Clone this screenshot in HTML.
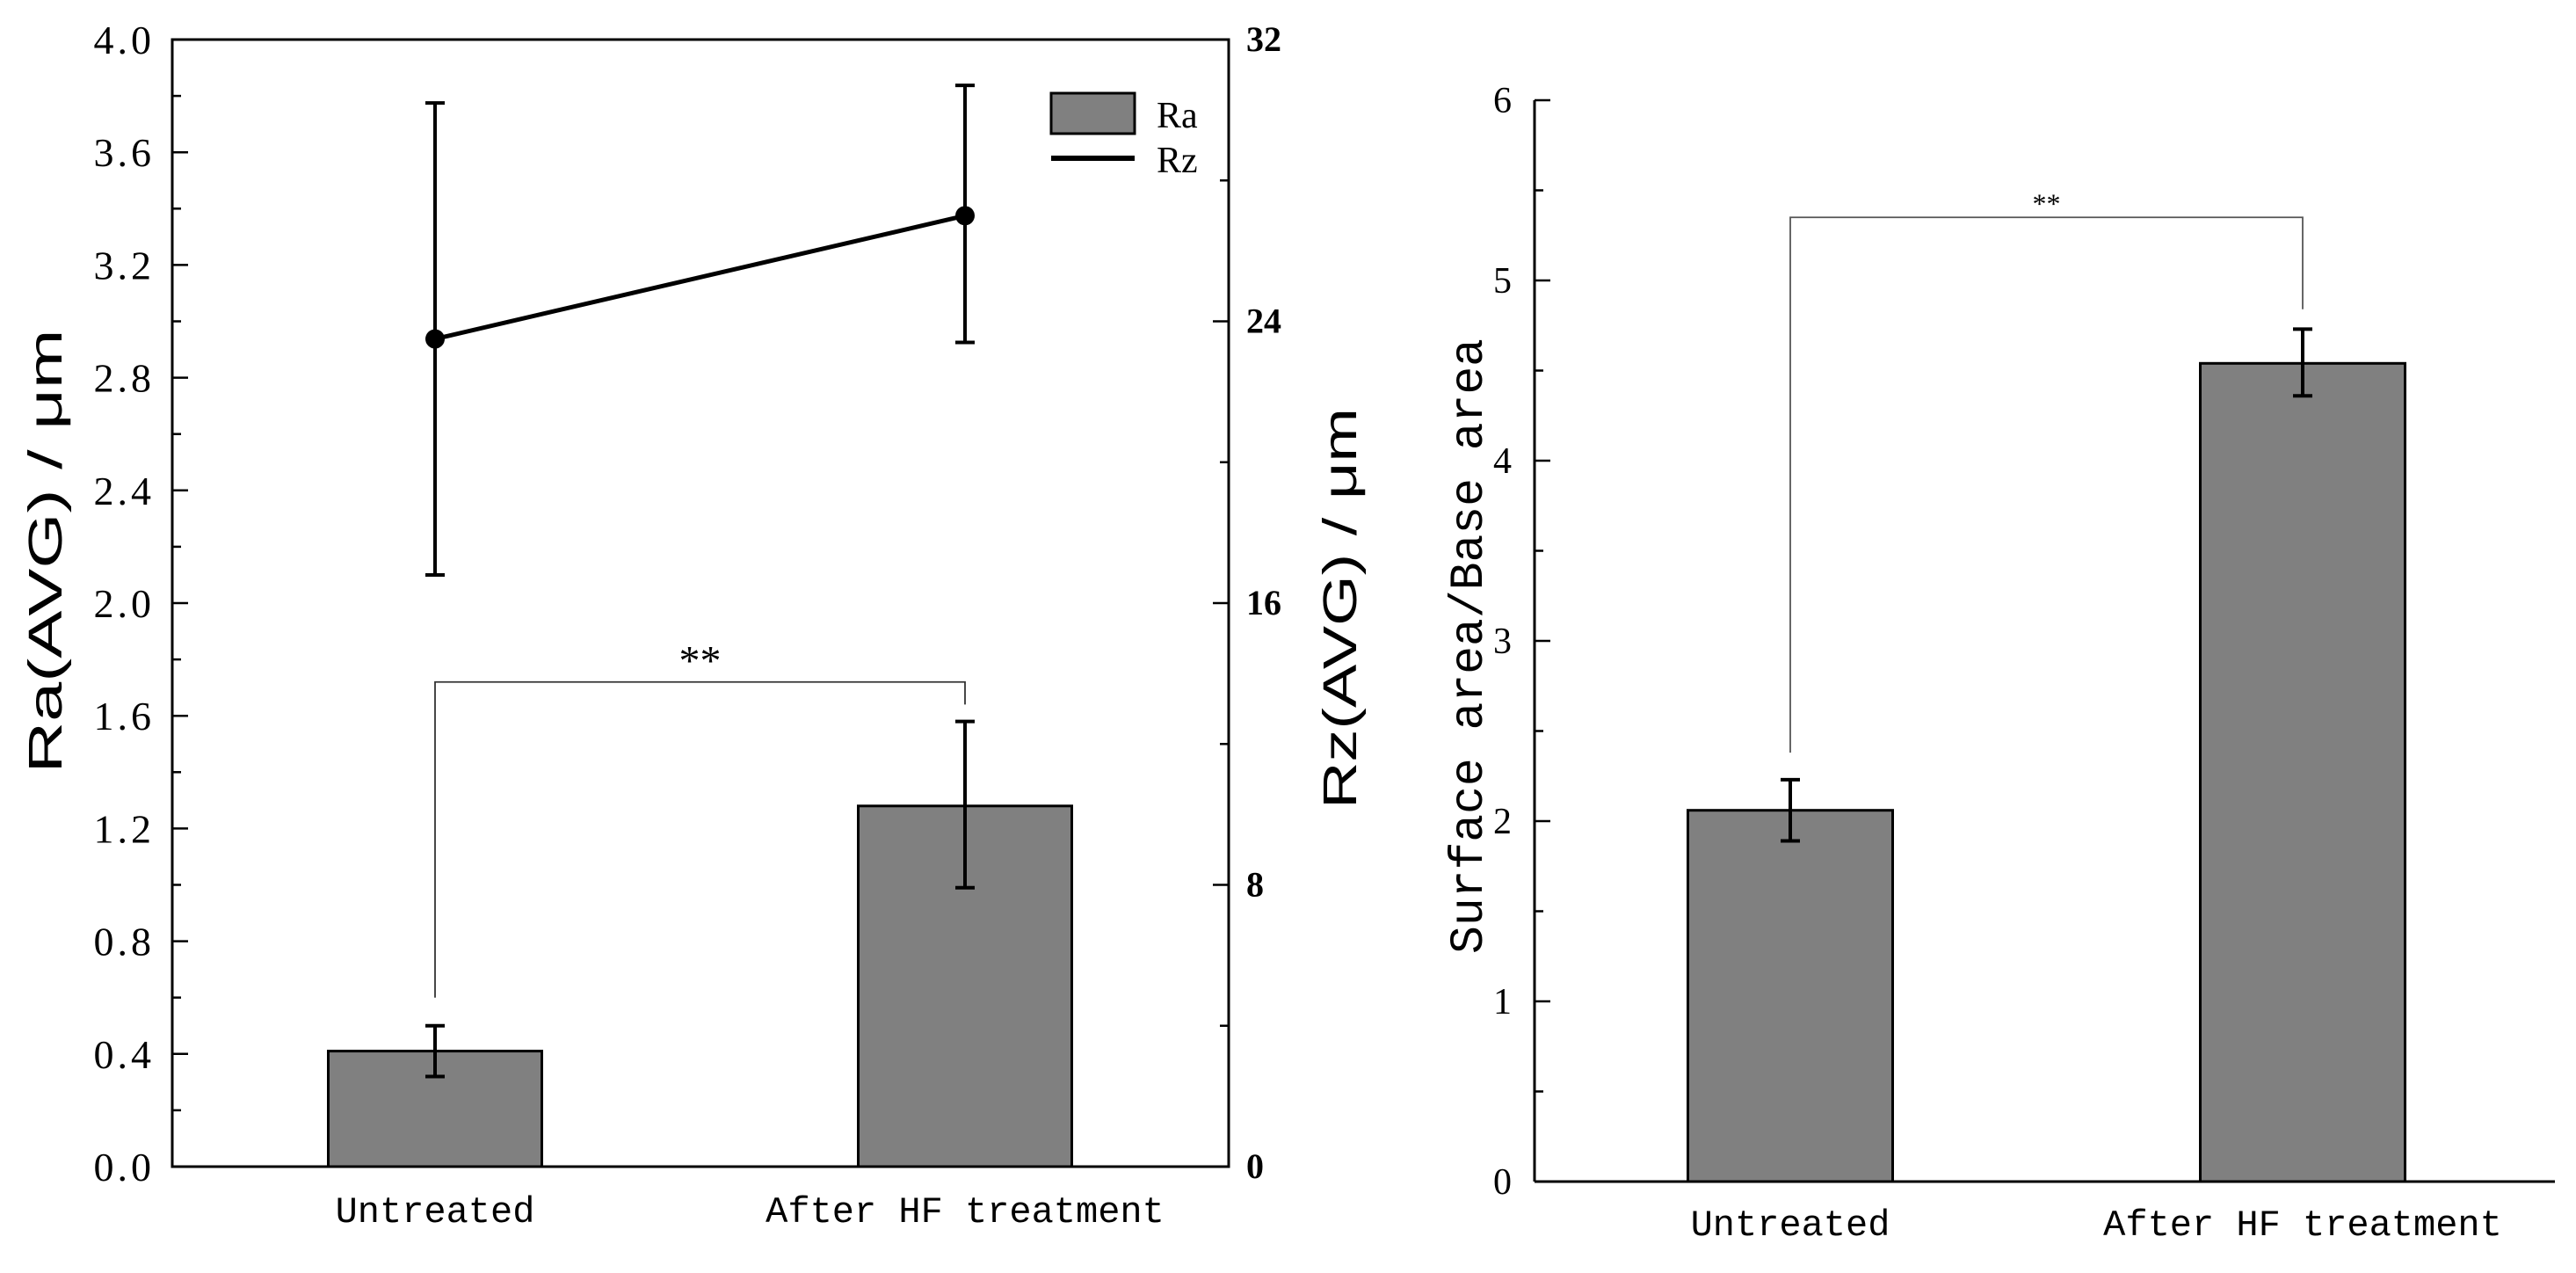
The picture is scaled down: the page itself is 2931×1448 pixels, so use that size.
<!DOCTYPE html>
<html><head><meta charset="utf-8"><style>
html,body{margin:0;padding:0;background:#fff}
svg{display:block}
text{fill:#000}
</style></head><body>
<svg id="chart" width="2931" height="1448" viewBox="0 0 2931 1448" xmlns="http://www.w3.org/2000/svg">
<g id="left"></g>
<g id="right"></g>
</svg>
<script>
const categories = ["Untreated", "After HF treatment"];
const raValues = [0.41, 1.28];
const raLow = [0.32, 0.99];
const raHigh = [0.50, 1.58];
const rzValues = [23.5, 27.0];
const rzLow = [16.8, 23.4];
const rzHigh = [30.2, 30.7];
const raTicks = ["0.0","0.4","0.8","1.2","1.6","2.0","2.4","2.8","3.2","3.6","4.0"];
const rzTicks = ["0","8","16","24","32"];
const ratioValues = [2.06, 4.54];
const ratioLow = [1.89, 4.36];
const ratioHigh = [2.23, 4.73];
const ratioTicks = ["0","1","2","3","4","5","6"];

const NS = "http://www.w3.org/2000/svg";
function mk(parent, tag, attrs, text) {
  const e = document.createElementNS(NS, tag);
  for (const k in attrs) e.setAttribute(k, attrs[k]);
  if (text !== undefined) e.textContent = text;
  parent.appendChild(e);
  return e;
}
const serif = '"Liberation Serif", serif';
const mono = '"Liberation Mono", monospace';

// ---------- LEFT CHART ----------
const L = document.getElementById('left');
const lx0 = 196, lx1 = 1398, ly0 = 1327, ly1 = 45;
const raY = v => ly0 - (v / 4) * (ly0 - ly1);
const rzY = v => ly0 - (v / 32) * (ly0 - ly1);
const lCenters = [495, 1098];
const lCx = i => lCenters[i];
const barW = 243;

let e;
e = mk(L, 'rect', {x: lx0, y: ly1, width: lx1 - lx0, height: ly0 - ly1, fill: 'none', stroke: '#000', 'stroke-width': 3});



for (let k = 0; k <= 20; k++) {
  const v = k * 0.2, y = raY(v), major = k % 2 === 0;
  e = mk(L, 'line', {x1: lx0, x2: lx0 + (major ? 18 : 10), y1: y, y2: y, stroke: '#000', 'stroke-width': 2.5});
  
  
}
raTicks.forEach((t, i) => {
  e = mk(L, 'text', {x: 176, y: raY(parseFloat(t)) + 16, 'text-anchor': 'end', 'font-family': serif, 'font-size': 46, 'letter-spacing': 4}, t);
  
  
});
for (let k = 0; k <= 8; k++) {
  const v = k * 4, y = rzY(v), major = k % 2 === 0;
  e = mk(L, 'line', {x1: lx1, x2: lx1 - (major ? 18 : 10), y1: y, y2: y, stroke: '#000', 'stroke-width': 2.5});
  
  
}
rzTicks.forEach(t => {
  e = mk(L, 'text', {x: 1418, y: rzY(parseFloat(t)) + 13, 'text-anchor': 'start', 'font-family': serif, 'font-size': 40, 'font-weight': 'bold'}, t);
  
  
});

raValues.forEach((v, i) => {
  e = mk(L, 'rect', {x: lCx(i) - barW / 2, y: raY(v), width: barW, height: ly0 - raY(v), fill: '#808080', stroke: '#000', 'stroke-width': 3});
  
  
  const g = mk(L, 'g', {stroke: '#000', 'stroke-width': 4});
  
  
  mk(g, 'line', {x1: lCx(i), x2: lCx(i), y1: raY(raLow[i]), y2: raY(raHigh[i])});
  mk(g, 'line', {x1: lCx(i) - 11, x2: lCx(i) + 11, y1: raY(raLow[i]), y2: raY(raLow[i])});
  mk(g, 'line', {x1: lCx(i) - 11, x2: lCx(i) + 11, y1: raY(raHigh[i]), y2: raY(raHigh[i])});
});
e = mk(L, 'polyline', {points: rzValues.map((v, i) => lCx(i) + ',' + rzY(v)).join(' '), fill: 'none', stroke: '#000', 'stroke-width': 5});


rzValues.forEach((v, i) => {
  const g = mk(L, 'g', {stroke: '#000', 'stroke-width': 4});
  
  
  mk(g, 'line', {x1: lCx(i), x2: lCx(i), y1: rzY(rzLow[i]), y2: rzY(rzHigh[i])});
  mk(g, 'line', {x1: lCx(i) - 11, x2: lCx(i) + 11, y1: rzY(rzLow[i]), y2: rzY(rzLow[i])});
  mk(g, 'line', {x1: lCx(i) - 11, x2: lCx(i) + 11, y1: rzY(rzHigh[i]), y2: rzY(rzHigh[i])});
  e = mk(L, 'circle', {cx: lCx(i), cy: rzY(v), r: 11, fill: '#000'});
  
  
});
const brY = raY(1.72);
e = mk(L, 'polyline', {points: `${lCx(0)},${raY(0.60)} ${lCx(0)},${brY} ${lCx(1)},${brY} ${lCx(1)},${raY(1.64)}`, fill: 'none', stroke: '#333', 'stroke-width': 1.8});


e = mk(L, 'text', {x: (lCx(0) + lCx(1)) / 2, y: brY - 8, 'text-anchor': 'middle', 'font-family': serif, 'font-size': 48}, '**');


e = mk(L, 'rect', {x: 1196, y: 106, width: 95, height: 46, fill: '#808080', stroke: '#000', 'stroke-width': 3});


e = mk(L, 'text', {x: 1316, y: 145, 'font-family': serif, 'font-size': 42}, 'Ra');


e = mk(L, 'line', {x1: 1196, x2: 1291, y1: 180, y2: 180, stroke: '#000', 'stroke-width': 6});


e = mk(L, 'text', {x: 1316, y: 196, 'font-family': serif, 'font-size': 42}, 'Rz');


categories.forEach((c, i) => {
  e = mk(L, 'text', {x: lCx(i), y: 1390, 'text-anchor': 'middle', 'font-family': mono, 'font-size': 42}, c);
  
  
});
e = mk(L, 'text', {x: 0, y: 0, transform: 'translate(70,627) rotate(-90)', 'text-anchor': 'middle', 'font-family': '"Liberation Sans Narrow", "Liberation Sans", sans-serif', 'font-size': 54, textLength: 505, lengthAdjust: 'spacingAndGlyphs'}, 'Ra(AVG)  /  μm');


e = mk(L, 'text', {x: 0, y: 0, transform: 'translate(1543,692) rotate(-90)', 'text-anchor': 'middle', 'font-family': '"Liberation Sans Narrow", "Liberation Sans", sans-serif', 'font-size': 54, textLength: 456, lengthAdjust: 'spacingAndGlyphs'}, 'Rz(AVG)  /  μm');



// ---------- RIGHT CHART ----------
const R = document.getElementById('right');
const rx0 = 1746, rx1 = 2907, ry0 = 1344, ry1 = 114;
const rY = v => ry0 - (v / 6) * (ry0 - ry1);
const rCenters = [2037, 2620];
const rCx = i => rCenters[i];
const rBarW = 233;
e = mk(R, 'line', {x1: rx0, x2: rx0, y1: ry0, y2: ry1, stroke: '#000', 'stroke-width': 3});


e = mk(R, 'line', {x1: rx0, x2: rx1, y1: ry0, y2: ry0, stroke: '#000', 'stroke-width': 3});


for (let k = 0; k <= 12; k++) {
  const v = k * 0.5, y = rY(v), major = k % 2 === 0;
  e = mk(R, 'line', {x1: rx0, x2: rx0 + (major ? 18 : 10), y1: y, y2: y, stroke: '#000', 'stroke-width': 2.5});
  
  
}
ratioTicks.forEach(t => {
  e = mk(R, 'text', {x: 1720, y: rY(parseFloat(t)) + 14, 'text-anchor': 'end', 'font-family': serif, 'font-size': 42}, t);
  
  
});
ratioValues.forEach((v, i) => {
  e = mk(R, 'rect', {x: rCx(i) - rBarW / 2, y: rY(v), width: rBarW, height: ry0 - rY(v), fill: '#808080', stroke: '#000', 'stroke-width': 3});
  
  
  const g = mk(R, 'g', {stroke: '#000', 'stroke-width': 4});
  
  
  mk(g, 'line', {x1: rCx(i), x2: rCx(i), y1: rY(ratioLow[i]), y2: rY(ratioHigh[i])});
  mk(g, 'line', {x1: rCx(i) - 11, x2: rCx(i) + 11, y1: rY(ratioLow[i]), y2: rY(ratioLow[i])});
  mk(g, 'line', {x1: rCx(i) - 11, x2: rCx(i) + 11, y1: rY(ratioHigh[i]), y2: rY(ratioHigh[i])});
});
const rbY = rY(5.35);
e = mk(R, 'polyline', {points: `${rCx(0)},${rY(2.38)} ${rCx(0)},${rbY} ${rCx(1)},${rbY} ${rCx(1)},${rY(4.84)}`, fill: 'none', stroke: '#555', 'stroke-width': 1.8});


e = mk(R, 'text', {x: (rCx(0) + rCx(1)) / 2, y: rbY - 5, 'text-anchor': 'middle', 'font-family': serif, 'font-size': 32}, '**');


categories.forEach((c, i) => {
  e = mk(R, 'text', {x: rCx(i), y: 1405, 'text-anchor': 'middle', 'font-family': mono, 'font-size': 42}, c);
  
  
});
e = mk(R, 'text', {x: 0, y: 0, transform: 'translate(1686,735) rotate(-90)', 'text-anchor': 'middle', 'font-family': mono, 'font-size': 54, textLength: 700, lengthAdjust: 'spacingAndGlyphs'}, 'Surface area/Base area');


</script>
</body></html>
